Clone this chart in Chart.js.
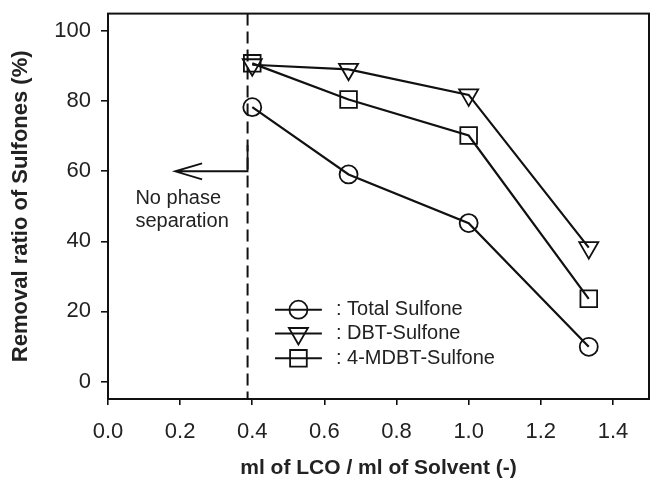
<!DOCTYPE html>
<html>
<head>
<meta charset="utf-8">
<script src="https://cdn.jsdelivr.net/npm/chart.js@4.4.1/dist/chart.umd.min.js"></script>
<style>
  html, body { margin: 0; padding: 0; background: #fff; }
  canvas { display: block; }
</style>
</head>
<body>
<canvas id="chart" width="667" height="479"></canvas>
<script>
// ml of LCO per ml of solvent
const ratio = [0.4, 0.667, 1.0, 1.333];
// removal ratio (%)
const totalSulfone = [78.3, 59.1, 45.2, 9.9];
const dbtSulfone = [90.4, 89.1, 81.8, 38.2];
const mdbtSulfone = [90.8, 80.5, 70.2, 23.6];
const seriesNames = [': Total Sulfone', ': DBT-Sulfone', ': 4-MDBT-Sulfone'];

const xTicks = [0.0, 0.2, 0.4, 0.6, 0.8, 1.0, 1.2, 1.4];
const yTicks = [0, 20, 40, 60, 80, 100];

// below this ratio the two liquids don't separate
const phaseLimit = 0.387;
const noteLines = ['No phase', 'separation'];

const INK = '#111';
const TEXT = '#222';
const FONT = "'Liberation Sans', Arial, Helvetica, sans-serif";

const toPoints = ys => ys.map((y, i) => ({ x: ratio[i], y }));

function drawMarker(ctx, style, x, y, r) {
  ctx.beginPath();
  if (style === 'circle') {
    ctx.arc(x, y, r, 0, Math.PI * 2);
  } else if (style === 'rect') {
    const s = r * Math.SQRT1_2;
    ctx.rect(x - s, y - s, 2 * s, 2 * s);
  } else {
    // triangle pointing down
    ctx.moveTo(x, y + r);
    ctx.lineTo(x - r * 0.866, y - r * 0.5);
    ctx.lineTo(x + r * 0.866, y - r * 0.5);
    ctx.closePath();
  }
  ctx.stroke();
}

// dashed boundary, elbow arrow, note text, frame and legend
const annotations = {
  id: 'annotations',
  beforeDatasetsDraw(chart) {
    const { ctx, chartArea: a, scales: { x, y } } = chart;
    const px = x.getPixelForValue(phaseLimit);
    ctx.save();
    ctx.strokeStyle = INK;
    ctx.lineWidth = 2;
    ctx.setLineDash([12, 6]);
    ctx.beginPath();
    ctx.moveTo(px, a.top);
    ctx.lineTo(px, a.bottom);
    ctx.stroke();
    ctx.setLineDash([]);

    // elbow arrow pointing left
    const yTop = y.getPixelForValue(67.5);
    const yArr = y.getPixelForValue(60);
    const tip = x.getPixelForValue(0.186);
    ctx.lineWidth = 1.8;
    ctx.beginPath();
    ctx.moveTo(px, yTop);
    ctx.lineTo(px, yArr);
    ctx.lineTo(tip, yArr);
    ctx.moveTo(tip + 27, yArr - 8);
    ctx.lineTo(tip, yArr);
    ctx.lineTo(tip + 27, yArr + 8);
    ctx.stroke();

    ctx.fillStyle = TEXT;
    ctx.font = '20px ' + FONT;
    ctx.textAlign = 'left';
    ctx.textBaseline = 'middle';
    const noteX = x.getPixelForValue(0.076);
    ctx.fillText(noteLines[0], noteX, y.getPixelForValue(52.3));
    ctx.fillText(noteLines[1], noteX, y.getPixelForValue(45.8));
    ctx.restore();
  },
  afterDraw(chart) {
    const { ctx, chartArea: a, scales: { x, y } } = chart;
    ctx.save();
    ctx.strokeStyle = INK;
    ctx.lineWidth = 2;
    ctx.strokeRect(a.left, a.top, a.right - a.left, a.bottom - a.top);

    // legend rows inside the plot
    const rows = [20.5, 13.7, 6.6];
    const x0 = x.getPixelForValue(0.463);
    const x1 = x.getPixelForValue(0.593);
    const xm = (x0 + x1) / 2;
    const xt = x.getPixelForValue(0.632);
    ctx.font = '20px ' + FONT;
    ctx.fillStyle = TEXT;
    ctx.textAlign = 'left';
    ctx.textBaseline = 'middle';
    chart.data.datasets.forEach((ds, i) => {
      const py = y.getPixelForValue(rows[i]);
      ctx.lineWidth = 2;
      ctx.beginPath();
      ctx.moveTo(x0, py);
      ctx.lineTo(x1, py);
      ctx.stroke();
      ctx.lineWidth = ds.pointBorderWidth;
      drawMarker(ctx, ds.pointStyle, xm, py, ds.pointRadius);
      ctx.fillText(seriesNames[i], xt, py);
    });
    ctx.restore();
  }
};

const lineStyle = {
  borderColor: INK,
  borderWidth: 2.2,
  pointBackgroundColor: 'rgba(0,0,0,0)',
  pointBorderColor: INK,
  pointBorderWidth: 1.8,
  tension: 0,
  fill: false
};

new Chart(document.getElementById('chart'), {
  type: 'line',
  data: {
    datasets: [
      { ...lineStyle, label: 'Total Sulfone', data: toPoints(totalSulfone), pointStyle: 'circle', pointRadius: 9 },
      { ...lineStyle, label: 'DBT-Sulfone', data: toPoints(dbtSulfone), pointStyle: 'triangle', pointRotation: 180, pointRadius: 11 },
      { ...lineStyle, label: '4-MDBT-Sulfone', data: toPoints(mdbtSulfone), pointStyle: 'rect', pointRadius: 11.8 }
    ]
  },
  options: {
    responsive: false,
    animation: false,
    layout: { padding: { left: 0, top: 10, right: 18, bottom: 0 } },
    plugins: {
      legend: { display: false },
      tooltip: { enabled: false }
    },
    scales: {
      x: {
        type: 'linear',
        min: 0,
        max: 1.5,
        afterBuildTicks: s => { s.ticks = xTicks.map(v => ({ value: v })); },
        afterFit: s => { s.height = 80; s.paddingLeft = 0; s.paddingRight = 0; },
        border: { display: true, color: INK, width: 2 },
        grid: { drawOnChartArea: false, drawTicks: true, tickLength: 6, color: INK, lineWidth: 1.6 },
        ticks: {
          color: TEXT,
          padding: 14,
          maxRotation: 0,
          font: { family: FONT, size: 22 },
          callback: v => v.toFixed(1)
        },
        title: {
          display: true,
          text: 'ml of LCO / ml of Solvent (-)',
          color: TEXT,
          padding: { top: 0, bottom: 0 },
          font: { family: FONT, size: 21, weight: 'bold', lineHeight: 1 }
        }
      },
      y: {
        min: -5,
        max: 105,
        afterBuildTicks: s => { s.ticks = yTicks.map(v => ({ value: v })); },
        afterFit: s => { s.width = 108; s.paddingTop = 0; s.paddingBottom = 0; },
        border: { display: true, color: INK, width: 2 },
        grid: { drawOnChartArea: false, drawTicks: true, tickLength: 7, color: INK, lineWidth: 1.6 },
        ticks: {
          color: TEXT,
          padding: 10,
          font: { family: FONT, size: 22 }
        },
        title: {
          display: true,
          text: 'Removal ratio of Sulfones (%)',
          color: TEXT,
          padding: { top: 8, bottom: 0 },
          font: { family: FONT, size: 22, weight: 'bold' }
        }
      }
    }
  },
  plugins: [annotations]
});
</script>
</body>
</html>
